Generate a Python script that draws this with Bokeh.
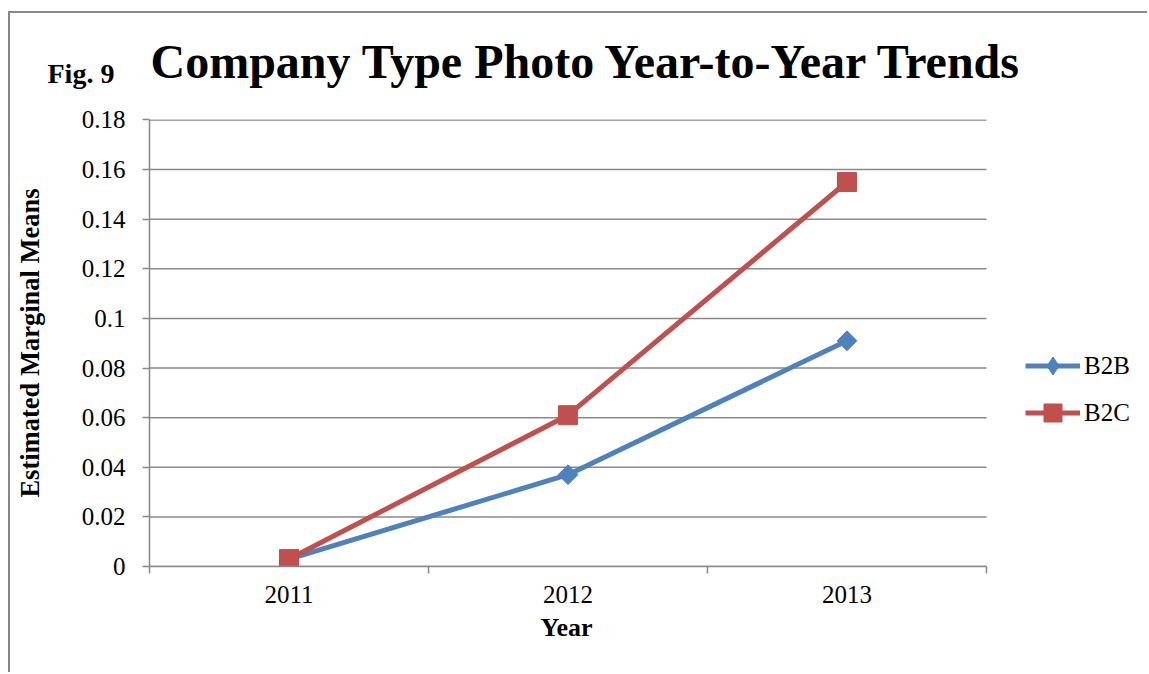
from bokeh.plotting import figure
from bokeh.models import (Range1d, FixedTicker, CustomJSTickFormatter, Label, Legend, LegendItem, Title)
from bokeh.embed import file_html
from bokeh.resources import INLINE

years = ["2011", "2012", "2013"]
b2b = [0.003, 0.037, 0.091]
b2c = [0.003, 0.061, 0.155]
y_ticks = [0.0, 0.02, 0.04, 0.06, 0.08, 0.10, 0.12, 0.14, 0.16, 0.18]
series_names = ["B2B", "B2C"]
title_text = "Company Type Photo Year-to-Year Trends"
fig_text = "Fig. 9"
x_title = "Year"
y_title = "Estimated Marginal Means"

FONT = "Liberation Serif"
GRID = "#898989"
BLUE = "#4F81BD"
RED = "#C0504D"

n = len(years)
xs = [i + 0.5 for i in range(n)]
# the frame reaches the right edge of the canvas so that the legend (inside it) is not clipped;
# the axis occupies 837 of the 1000 frame pixels
x_end = n * 1000.0 / 837.0

p = figure(width=1139, height=661, output_backend="svg", toolbar_location=None,
           x_range=Range1d(0, x_end), y_range=Range1d(y_ticks[0], y_ticks[-1] + 0.0002),
           min_border_left=139, min_border_right=0, min_border_top=106, min_border_bottom=108,
           styles={"border-top": "2px solid #898989", "border-left": "2px solid #898989",
                   "margin-top": "11px", "margin-left": "8px"})
p.outline_line_color = None
p.background_fill_color = "white"
p.border_fill_color = "white"

# horizontal gridlines limited to the category span
p.xgrid.visible = False
p.ygrid.visible = False
p.segment(x0=0, x1=n, y0=y_ticks, y1=y_ticks, line_color=GRID, line_width=1.5)

# y axis
p.yaxis.ticker = FixedTicker(ticks=y_ticks)
p.yaxis.formatter = CustomJSTickFormatter(code="return String(parseFloat(tick.toFixed(2)));")
p.yaxis.axis_line_color = GRID
p.yaxis.axis_line_width = 1.5
p.yaxis.major_tick_line_color = GRID
p.yaxis.major_tick_line_width = 1.5
p.yaxis.major_tick_out = 7
p.yaxis.major_tick_in = 0
p.yaxis.minor_tick_line_color = None
p.yaxis.major_label_text_font = FONT
p.yaxis.major_label_text_font_size = "25px"
p.yaxis.major_label_text_color = "black"
p.yaxis.major_label_standoff = 17
p.yaxis.axis_label = y_title
p.yaxis.axis_label_text_font = FONT
p.yaxis.axis_label_text_font_size = "26.5px"
p.yaxis.axis_label_text_font_style = "bold"
p.yaxis.axis_label_text_color = "black"
p.yaxis.axis_label_standoff = 34

# x axis: labels at category centres, tick marks at boundaries
p.xaxis.bounds = (0, n)
p.xaxis.ticker = FixedTicker(ticks=xs, minor_ticks=list(range(n + 1)))
p.xaxis.major_label_overrides = {x: y for x, y in zip(xs, years)}
p.xaxis.axis_line_color = GRID
p.xaxis.axis_line_width = 1.5
p.xaxis.major_tick_line_color = None
p.xaxis.major_tick_out = 7
p.xaxis.minor_tick_line_color = GRID
p.xaxis.minor_tick_line_width = 1.5
p.xaxis.minor_tick_out = 7
p.xaxis.minor_tick_in = 0
p.xaxis.major_label_text_font = FONT
p.xaxis.major_label_text_font_size = "25px"
p.xaxis.major_label_text_color = "black"
p.xaxis.major_label_standoff = 12

# x axis title, centred under the category span (not the whole frame)
p.add_layout(Title(text=x_title, align="left", offset=391, standoff=11,
                   text_font=FONT, text_font_size="26px", text_font_style="bold",
                   text_color="black"), "below")

# series
k1 = p.scatter(xs, b2b, marker="diamond", size=18, fill_color=BLUE, line_color=BLUE)
l1 = p.line(xs, b2b, line_color=BLUE, line_width=5)
m1 = p.scatter(xs, b2b, marker="square", angle=0.785398, size=14, fill_color=BLUE, line_color=BLUE)
l2 = p.line(xs, b2c, line_color=RED, line_width=5)
m2 = p.scatter(xs, b2c, marker="square", size=19, fill_color=RED, line_color=RED)

legend = Legend(items=[LegendItem(label=series_names[0], renderers=[l1, k1]),
                       LegendItem(label=series_names[1], renderers=[l2, m2])],
                location=(876, 131))
legend.border_line_color = None
legend.background_fill_alpha = 0
legend.padding = 0
legend.margin = 0
legend.glyph_width = 55
legend.glyph_height = 45
legend.spacing = 2
legend.label_standoff = 4
legend.label_text_font = FONT
legend.label_text_font_size = "25px"
legend.label_text_color = "black"
p.add_layout(legend, "center")

# title texts (placed in the top margin)
p.add_layout(Label(x=1, y=58, x_units="screen", y_units="screen", text=title_text,
                   text_font=FONT, text_font_size="48px", text_font_style="bold",
                   text_color="black", text_baseline="alphabetic"), "above")
p.add_layout(Label(x=-102, y=-7, x_units="screen", y_units="screen", text=fig_text,
                   text_font=FONT, text_font_size="28px", text_font_style="bold",
                   text_color="black", text_baseline="alphabetic"), "above")

open("out.html", "w").write(file_html(p, INLINE))
